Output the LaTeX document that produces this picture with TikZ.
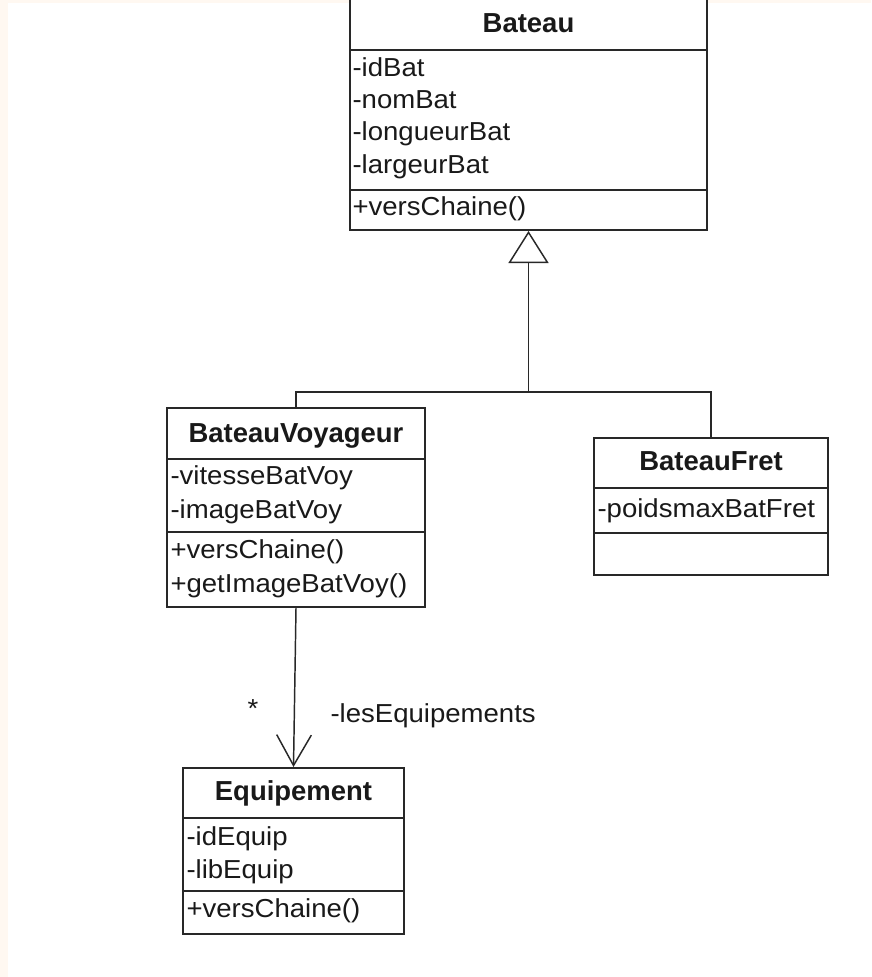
\documentclass[tikz,border=0pt]{standalone}
\usepackage{fontspec}
\usetikzlibrary{arrows.meta,fit}
\newfontfamily\umlfont{Liberation Sans}
\newfontfamily\umlmemberfont[FakeStretch=1.06]{Liberation Sans}
\definecolor{linec}{RGB}{40,40,40}
\definecolor{textc}{RGB}{25,25,25}
\definecolor{bgedge}{RGB}{255,248,241}

\tikzset{every picture/.style={line width=0.75pt}}
\tikzset{
  classbox/.style={draw=linec, line width=1.5pt, inner sep=0pt, fill=white},
  divider/.style={draw=linec, line width=1.5pt},
  classname/.style={font=\umlfont\fontsize{20.6}{24}\selectfont\bfseries, text=textc, anchor=base, inner sep=0.75pt},
  member/.style={font=\umlmemberfont\fontsize{19.5}{24}\selectfont, text=textc, anchor=base west, inner sep=0.75pt},
  link/.style={draw=linec, line width=1.1pt},
}

\begin{document}
\begin{tikzpicture}[x=0.75pt,y=0.75pt,yscale=-1,xscale=1]
\useasboundingbox (0,0) rectangle (871,977);
%background
\fill [bgedge] (0,0) rectangle (871,977);
\fill [white] (8,3) rectangle (871,977);

%Shape: Class Bateau
\node (bateau) [classbox, fit={(350,-10) (707,230)}] {};
\draw [divider] (350,50) -- (707,50) ;
\draw [divider] (350,190) -- (707,190) ;
%Shape: Class BateauVoyageur
\node (voyageur) [classbox, fit={(167,408) (425,607)}] {};
\draw [divider] (167,459) -- (425,459) ;
\draw [divider] (167,532) -- (425,532) ;
%Shape: Class BateauFret
\node (fret) [classbox, fit={(594,438) (828,575)}] {};
\draw [divider] (594,488) -- (828,488) ;
\draw [divider] (594,533) -- (828,533) ;
%Shape: Class Equipement
\node (equip) [classbox, fit={(183,768) (404,934)}] {};
\draw [divider] (183,818) -- (404,818) ;
\draw [divider] (183,891) -- (404,891) ;

%Generalization
\coordinate (split) at (bateau.south |- 0,392);
\draw [link] (voyageur.north) |- (split) -| (fret.north) ;
\draw [link, -{Triangle[open, length=24pt, width=30pt, fill=white]}] (split) -- (bateau.south) ;
%Association
\draw [link, -{Straight Barb[length=23pt, width=26pt]}] (voyageur.south) -- (equip.north) ;

% Text Node
\node (nBateau) [classname] at (bateau.center |- 0,33) {Bateau};
% Text Node
\node (aIdBat) [member] at (351,77) {-idBat};
\node (aNomBat) [member] at (351,109) {-nomBat};
\node (aLongueurBat) [member] at (351,141) {-longueurBat};
\node (aLargeurBat) [member] at (351,173) {-largeurBat};
\node (oVersChaineBat) [member] at (351,215) {+versChaine()};
% Text Node
\node (nVoyageur) [classname] at (voyageur.center |- 0,442) {BateauVoyageur};
% Text Node
\node (aVitesseBatVoy) [member] at (169,484) {-vitesseBatVoy};
\node (aImageBatVoy) [member] at (169,518) {-imageBatVoy};
\node (oVersChaineVoy) [member] at (169,558) {+versChaine()};
\node (oGetImageBatVoy) [member] at (169,592) {+getImageBatVoy()};
% Text Node
\node (nFret) [classname] at (fret.center |- 0,470) {BateauFret};
% Text Node
\node (aPoidsmaxBatFret) [member] at (596,517) {-poidsmaxBatFret};
% Text Node
\node (nEquip) [classname] at (equip.center |- 0,800) {Equipement};
% Text Node
\node (aIdEquip) [member] at (185,845) {-idEquip};
\node (aLibEquip) [member] at (185,878) {-libEquip};
\node (oVersChaineEquip) [member] at (185,917) {+versChaine()};
% Text Node
\node (mult) [member, anchor=center] at (253,709) {*};
% Text Node
\node (role) [member] at (329,722) {-lesEquipements};

\end{tikzpicture}
\end{document}
